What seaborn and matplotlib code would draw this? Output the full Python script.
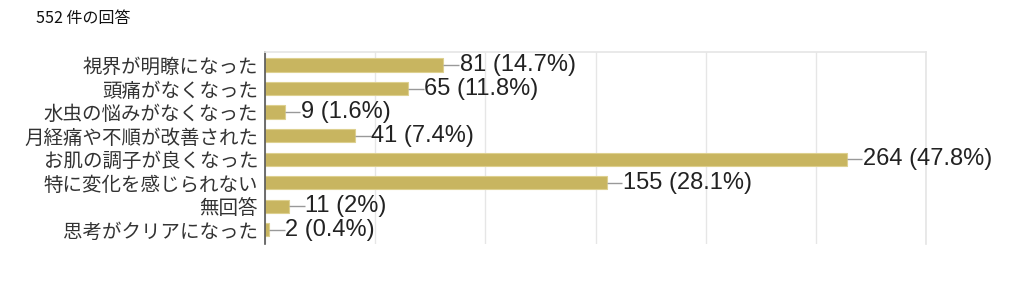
import matplotlib
matplotlib.use("Agg")
import matplotlib.pyplot as plt
import seaborn as sns
import pandas as pd

categories = ["視界が明瞭になった", "頭痛がなくなった", "水虫の悩みがなくなった",
              "月経痛や不順が改善された", "お肌の調子が良くなった", "特に変化を感じられない",
              "無回答", "思考がクリアになった"]
counts = [81, 65, 9, 41, 264, 155, 11, 2]
percents = ["14.7%", "11.8%", "1.6%", "7.4%", "47.8%", "28.1%", "2%", "0.4%"]
title = "552 件の回答"

sns.set_theme(style="white")
plt.rcParams['font.family'] = ['Liberation Sans', 'Noto Sans CJK JP', 'DejaVu Sans']

df = pd.DataFrame({"cat": categories, "n": counts})

fig = plt.figure(figsize=(10.24, 2.9), dpi=100)
ax = fig.add_axes([265/1024, 1 - 244/290, (926-265)/1024, (244-52)/290])

sns.barplot(data=df, x="n", y="cat", orient="h", color="#c8b560", saturation=1,
            width=0.56, edgecolor="#ddd08f", linewidth=0.8, ax=ax)

ax.set_xlim(0, 300)
ax.set_ylim(7.6, -0.55)
ax.set_xticks(range(0, 301, 50))
ax.xaxis.grid(True, color="#e6e6e6", linewidth=1)
ax.set_axisbelow(True)
ax.set_xticklabels([])
ax.tick_params(axis="x", length=0)
ax.tick_params(axis="y", length=0, pad=5, labelsize=14, labelcolor="#333333")
ax.set_xlabel("")
ax.set_ylabel("")
for lbl in ax.get_yticklabels():
    lbl.set_fontfamily(['Noto Sans CJK JP', 'DejaVu Sans'])

ax.spines["bottom"].set_visible(False)
ax.spines["top"].set_color("#e6e6e6")
ax.spines["right"].set_color("#e6e6e6")
ax.spines["left"].set_color("#555555")
ax.spines["left"].set_linewidth(1.2)

for i, (n, p) in enumerate(zip(counts, percents)):
    x0 = n
    ax.plot([x0, x0 + 7], [i, i], color="#999999", linewidth=1, solid_capstyle="butt")
    ax.text(x0 + 7.3, i, f"{n} ({p})", va="center", ha="left", fontsize=17,
            color="#222222", family=['Liberation Sans', 'DejaVu Sans'])

fig.text(36/1024, 1 - 18/290, title, fontsize=11.5, va="center", ha="left",
         color="#111111", family=['Noto Sans CJK JP', 'DejaVu Sans'])

fig.savefig("out.png", dpi=100)
